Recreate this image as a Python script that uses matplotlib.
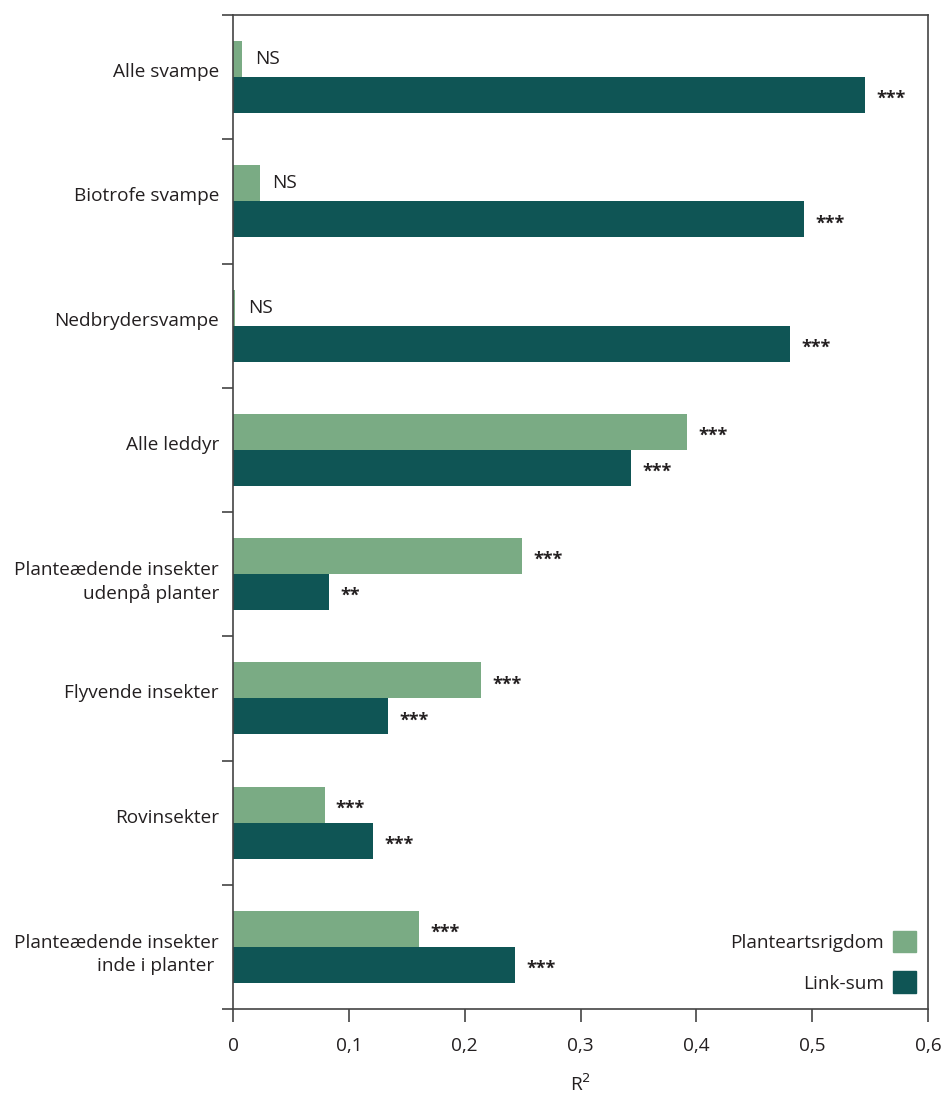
import matplotlib
matplotlib.use("Agg")
import matplotlib.pyplot as plt
from matplotlib.patches import Patch
import numpy as np

plt.rcParams['font.family'] = ['Open Sans', 'DejaVu Sans']

categories = ["Alle svampe", "Biotrofe svampe", "Nedbrydersvampe", "Alle leddyr",
              "Planteædende insekter\nudenpå planter", "Flyvende insekter", "Rovinsekter",
              "Planteædende insekter\ninde i planter "]
plante = [0.008, 0.023, 0.002, 0.392, 0.2496, 0.214, 0.079, 0.161]
link = [0.546, 0.493, 0.481, 0.344, 0.083, 0.134, 0.121, 0.2435]
sig_plante = ["NS", "NS", "NS", "***", "***", "***", "***", "***"]
sig_link = ["***", "***", "***", "***", "**", "***", "***", "***"]
xticks = [0, 0.1, 0.2, 0.3, 0.4, 0.5, 0.6]
xticklabels = ["0", "0,1", "0,2", "0,3", "0,4", "0,5", "0,6"]

c_light = "#7aab84"
c_dark = "#0f5555"
tc = "#231f20"
fs = 13.7

fig = plt.figure(figsize=(9.43, 10.96), dpi=100)
ax = fig.add_axes([233/943, 87/1096, (928-233)/943, (1009-15)/1096])

n = len(categories)
y = np.arange(n)
h = 0.29
ax.barh(y - h/2, plante, height=h, color=c_light, label="Planteartsrigdom")
ax.barh(y + h/2, link, height=h, color=c_dark, label="Link-sum")

for i in range(n):
    for val, s, yy in ((plante[i], sig_plante[i], y[i] - h/2), (link[i], sig_link[i], y[i] + h/2)):
        if s == "NS":
            ax.annotate(s, (val, yy), xytext=(9, 0), textcoords="offset points",
                        va="center", ha="left", fontsize=fs, color=tc)
        else:
            ax.annotate(s, (val, yy), xytext=(8, -2.8), textcoords="offset points",
                        va="center", ha="left", fontsize=13, fontweight="bold", color=tc)

ax.set_ylim(n - 0.5, -0.5)
ax.set_xlim(0, 0.6)
ax.set_yticks(np.arange(n + 1) - 0.5)
ax.set_yticklabels([])
ax.tick_params(axis="y", which="major", length=8, width=1.2, color="#444444", direction="out")

# category labels
for i, cat in enumerate(categories):
    dy = -5.4 if "\n" in cat else 3.6
    ax.annotate(cat, xy=(0, y[i]), xycoords=("axes fraction", "data"),
                xytext=(-10.1, dy), textcoords="offset points",
                ha="right", va="center", multialignment="right",
                fontsize=fs, color=tc, linespacing=1.34, annotation_clip=False)

ax.set_xticks(xticks)
ax.set_xticklabels(xticklabels, fontsize=fs, color=tc)
ax.tick_params(axis="x", length=9.5, width=1.2, color="#444444", pad=11)
for sp in ax.spines.values():
    sp.set_color("#444444")
    sp.set_linewidth(1.2)
ax.set_xlabel("R$^2$", fontsize=fs, color=tc, labelpad=13)

handles = [Patch(color=c_light), Patch(color=c_dark)]
leg = ax.legend(handles, ["Planteartsrigdom", "Link-sum"], loc="lower right", frameon=False,
                bbox_to_anchor=(916/943, (1096-993)/1096), bbox_transform=fig.transFigure,
                markerfirst=False, fontsize=fs, handlelength=1.2, handleheight=1.37,
                labelspacing=1.0, borderaxespad=0, borderpad=0, handletextpad=0.47)
for t in leg.get_texts():
    t.set_color(tc)

fig.savefig("out.png", dpi=100)
